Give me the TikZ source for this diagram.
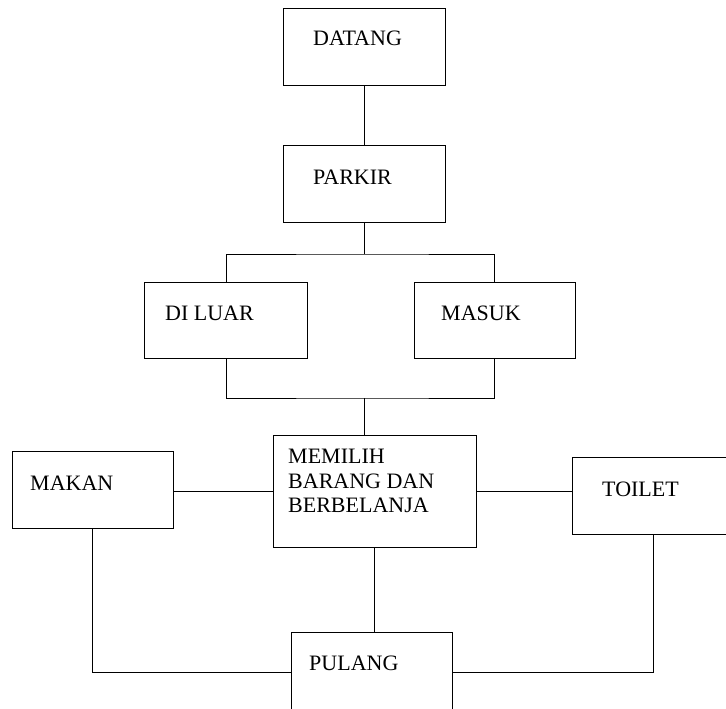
\documentclass[tikz,border=0pt]{standalone}
\usepackage{fontspec}
\setmainfont{Liberation Serif}
\usepackage{tikz}
\usetikzlibrary{calc}
\tikzset{
	box/.style={draw, line width=0.9pt, inner sep=0pt, minimum width=162pt, minimum height=77pt},
	lbl/.style={inner sep=0pt, anchor=west, font=\fontsize{22}{24.5}\selectfont},
	wire/.style={line width=0.9pt}
}

\begin{document}
\begin{tikzpicture}[x=1pt, y=-1pt]
		%%%%% START %%%%%
		\clip (0, 0) rectangle (726, 709);
		
		\node[box] (datang) at (364, 46.5) {};
		\node[lbl] (datang-t) at (313, 38) {DATANG};
		
		\node[box] (parkir) at (364.5, 184) {};
		\node[lbl] (parkir-t) at (313, 177) {PARKIR};
		
		\node[box, minimum width=163pt, minimum height=76pt] (diluar) at (226, 320) {};
		\node[lbl] (diluar-t) at (165, 313) {DI LUAR};
		
		\node[box, minimum width=161pt, minimum height=76pt] (masuk) at (494.5, 320) {};
		\node[lbl] (masuk-t) at (441, 313) {MASUK};
		
		\node[box, minimum width=203pt, minimum height=112pt] (memilih) at (374.5, 491) {};
		\node[lbl, anchor=north west, align=left] (memilih-t) at (288, 449) {MEMILIH\\BARANG DAN\\BERBELANJA};
		
		\node[box, minimum width=161pt] (makan) at (92.5, 489.5) {};
		\node[lbl] (makan-t) at (30, 483) {MAKAN};
		
		\node[box, minimum width=163pt] (toilet) at (653.5, 495.5) {};
		\node[lbl] (toilet-t) at (602, 489) {TOILET};
		
		\node[box, minimum width=161pt, minimum height=80pt] (pulang) at (371.5, 672) {};
		\node[lbl] (pulang-t) at (309, 663) {PULANG};
		
		\coordinate (split1) at (364.5, 254);
		\coordinate (join1) at (364.5, 398);
		
		\draw[wire] (datang.south) -- (datang.south |- parkir.north);
		\draw[wire] (parkir.south) -- (split1);
		\draw[wire] (diluar.north) |- (split1) -| (masuk.north);
		\draw[wire] (diluar.south) |- (join1) -| (masuk.south);
		\draw[wire] (join1) -- (join1 |- memilih.north);
		\draw[wire] (memilih.west) -- (memilih.west -| makan.east);
		\draw[wire] (memilih.east) -- (memilih.east -| toilet.west);
		\draw[wire] (memilih.south) -- (memilih.south |- pulang.north);
		\draw[wire] (makan.south) |- (pulang.west);
		\draw[wire] (toilet.south) |- (pulang.east);
		%%%%% END %%%%%
\end{tikzpicture}
\end{document}
